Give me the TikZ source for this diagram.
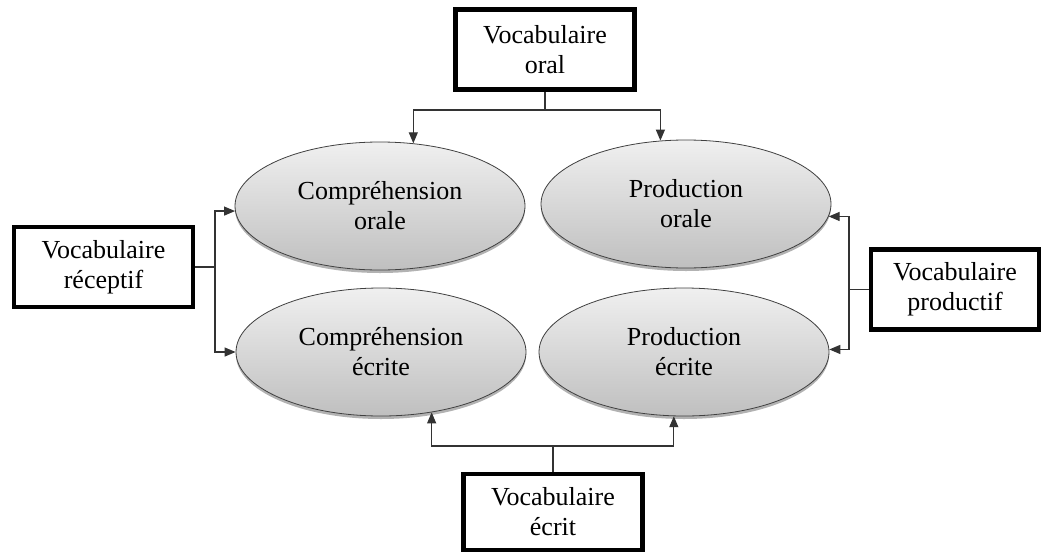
\documentclass[tikz,border=0pt]{standalone}
\usepackage{fontspec}
\setmainfont{Liberation Serif}
\usetikzlibrary{shapes.geometric,arrows.meta,shadows}
\begin{document}
\begin{tikzpicture}[x=1pt,y=-1pt,
  vbox/.style={draw,line width=4.5pt,rectangle,minimum width=179pt,minimum height=80pt,inner sep=0pt,align=center,font=\fontsize{26}{30}\selectfont},
  comp/.style={ellipse,draw=black!75,line width=0.8pt,top color=black!6,bottom color=black!25,minimum width=290pt,minimum height=128pt,inner sep=0pt,align=center,font=\fontsize{26}{30}\selectfont,drop shadow={shadow xshift=0pt,shadow yshift=-3pt,opacity=0.3,fill=black}},
  conn/.style={line width=1.2pt,draw=black!80},
  arr/.style={conn,-{Triangle[length=11pt,width=9pt]}}]
\useasboundingbox (0,0) rectangle (1043,554);
% ellipses
\node[comp] (co) at (380,206) {Compréhension\\orale};
\node[comp] (po) at (686,204) {Production\\orale};
\node[comp] (ce) at (381,352) {Compréhension\\écrite};
\node[comp] (pe) at (684,352) {Production\\écrite};
% boxes
\node[vbox] (oral) at (545,49.5) {Vocabulaire\\oral};
\node[vbox] (rec) at (103.5,267) {Vocabulaire\\réceptif};
\node[vbox,minimum width=168pt] (prod) at (955,289.5) {Vocabulaire\\productif};
\node[vbox,minimum height=76pt] (ecr) at (553,512) {Vocabulaire\\écrit};
% bus coordinates
\coordinate (yo) at (0,110);
\coordinate (xr) at (215,0);
\coordinate (xp) at (849,0);
\coordinate (ye) at (0,446);
% oral
\draw[conn] (oral.south) -- (oral.south |- yo);
\draw[arr] (oral.south |- yo) -| (co.62);
\draw[arr] (oral.south |- yo) -| (po.112);
% receptif
\draw[conn] (rec.east) -- (rec.east -| xr);
\draw[arr] (rec.east -| xr) |- (co.182);
\draw[arr] (rec.east -| xr) |- (ce.180);
% productif
\draw[conn] (prod.west) -- (prod.west -| xp);
\draw[arr] (prod.west -| xp) |- (po.-5);
\draw[arr] (prod.west -| xp) |- (pe.1);
% ecrit
\draw[conn] (ecr.north) -- (ecr.north |- ye);
\draw[arr] (ecr.north |- ye) -| (ce.-50);
\draw[arr] (ecr.north |- ye) -| (pe.-99);
\end{tikzpicture}
\end{document}
